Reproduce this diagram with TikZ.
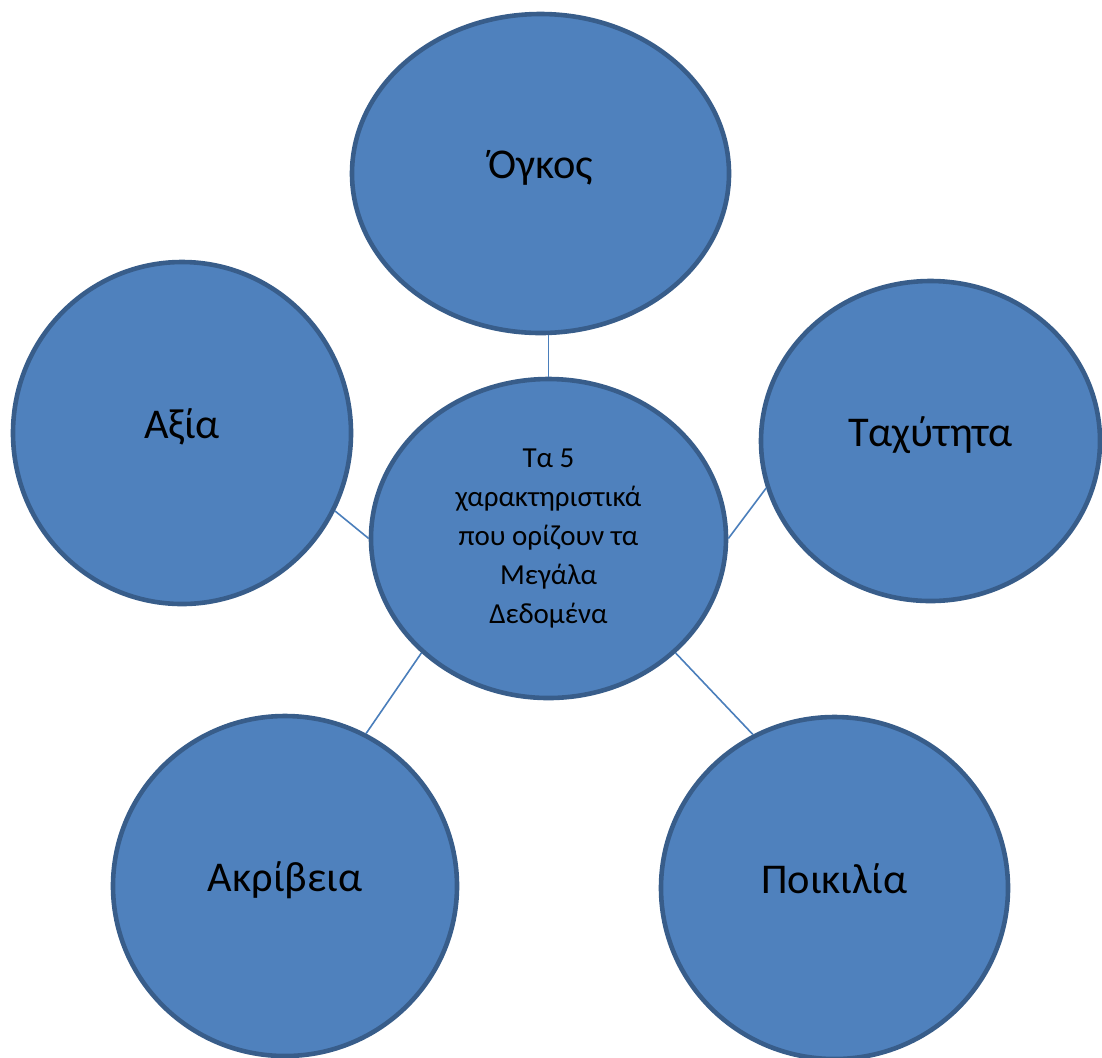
\documentclass[tikz,border=0pt]{standalone}
\usepackage{fontspec}
\setmainfont{Carlito}
\usetikzlibrary{shapes.geometric}

\definecolor{bubblefill}{HTML}{4F81BD}
\definecolor{bubbleedge}{HTML}{385D8A}
\definecolor{linkblue}{HTML}{4A7EBB}

\begin{document}
\begin{tikzpicture}[
    x=0.5pt,
    y=-0.5pt,
    bubble/.style={
        ellipse,
        draw=bubbleedge,
        fill=bubblefill,
        line width=2.3pt,
        inner sep=0pt,
        align=center
    },
    trait/.style={bubble, font=\fontsize{21.2}{25}\selectfont, text height=14pt, text depth=9pt},
    hub/.style={bubble, font=\fontsize{14.5}{19.5}\selectfont},
    link/.style={draw=linkblue, line width=0.8pt}
]
\useasboundingbox (0,0) rectangle (1102,1057);

% ============================================================
% KENTRO
% ============================================================
\node[hub, minimum width=177.5pt, minimum height=159.5pt] (hub) at (548.5,538.5)
    {Τα 5\\χαρακτηριστικά\\που ορίζουν τα\\Μεγάλα\\Δεδομένα};

% ============================================================
% ΤΑ 5 ΧΑΡΑΚΤΗΡΙΣΤΙΚΑ
% ============================================================
\node[trait, minimum width=188.5pt, minimum height=159.5pt] (ogkos) at (540.5,173.5) {Όγκος};
\node[trait, minimum width=169pt, minimum height=171pt] (axia) at (182,433) {Αξία};
\node[trait, minimum width=169.5pt, minimum height=160pt] (taxytita) at (930.5,441) {Ταχύτητα};
\node[trait, minimum width=172pt, minimum height=170pt] (akriveia) at (285,886) {Ακρίβεια};
\node[trait, minimum width=173.5pt, minimum height=171pt] (poikilia) at (834.5,888) {Ποικιλία};

% ============================================================
% ΣΥΝΔΕΣΕΙΣ
% ============================================================
\draw[link] (hub.north) -- (hub.north |- ogkos.south);
\draw[link] (axia.-27) -- (hub.west);
\draw[link] (taxytita.196.6) -- (hub.east);
\draw[link] (hub.222) -- (akriveia.62);
\draw[link] (hub.318) -- (poikilia.118.6);

\end{tikzpicture}
\end{document}
